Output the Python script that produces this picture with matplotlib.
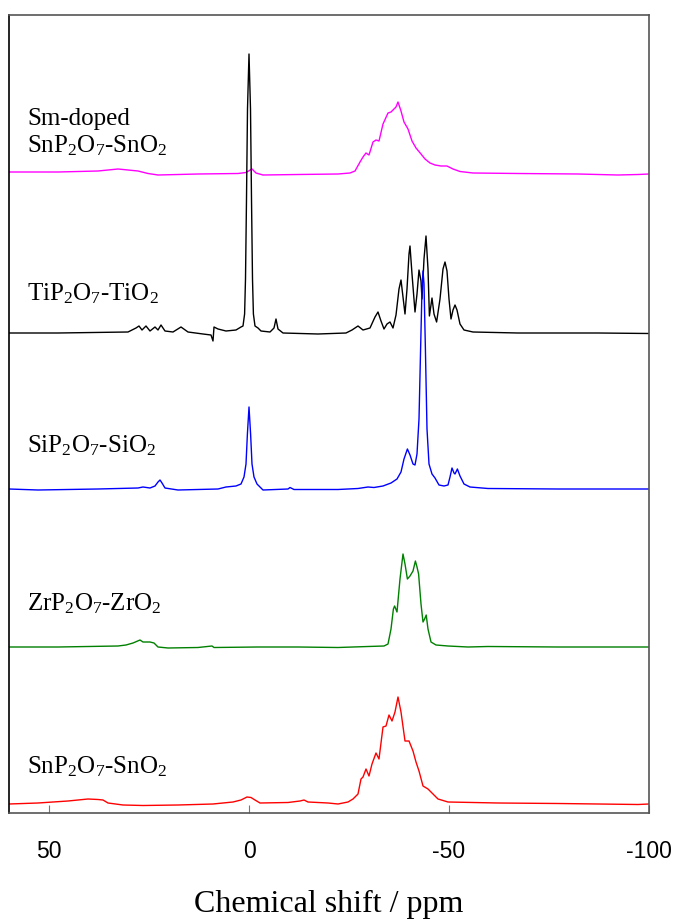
import matplotlib
matplotlib.use("Agg")
import matplotlib.pyplot as plt

plt.rcParams['mathtext.default'] = 'regular'

# chemical shift (ppm) and intensity, per sample
sm_ppm = [60, 47.75, 37.75, 32.75, 27.75, 25.25, 22.75, 12.75, 2.75, 0.75, -0.75, -1.75, -3.5,
          -12.25, -22.25, -25.25, -26.5, -27.75, -28.5, -29.25, -30, -31, -31.75, -32.5, -33.5,
          -34.75, -35.5, -36.25, -36.75, -37.25, -38, -38.75, -39.75, -40.75, -41.75, -43, -44,
          -45.25, -46.5, -48, -49.5, -51, -52.75, -56, -67.25, -82.25, -92.25, -97.25, -100]
sm_int = [0.02, 0.02, 0.03, 0.05, 0.03, 0.005, -0.01, 0, 0.005, 0.015, 0.05, 0.01, -0.01,
          -0.005, 0, 0.01, 0.03, 0.12, 0.17, 0.21, 0.19, 0.32, 0.34, 0.33, 0.50,
          0.61, 0.62, 0.65, 0.67, 0.72, 0.63, 0.52, 0.45, 0.33, 0.26, 0.20, 0.15,
          0.11, 0.09, 0.08, 0.08, 0.05, 0.025, 0.01, 0.005, 0, -0.01, -0.005, 0]

ti_ppm = [60, 47.75, 30.25, 28.25, 27.5, 26.75, 25.75, 24.75, 23.5, 22.75, 22, 21, 19, 17, 15.25,
          11.5, 9.5, 9, 8.75, 7.75, 5.75, 3.25, 2, 1.5, 1.1, 0.875, 0.625, 0.375, 0, -0.375,
          -0.625, -0.875, -1.1, -1.5, -2.25, -3, -5.25, -6.25, -6.75, -7.25, -8.5, -17.25,
          -24.25, -25.75, -27.25, -28.5, -30.25, -31.5, -32.25, -33, -33.75, -34.5, -35.25,
          -36, -36.75, -37.5, -38, -38.5, -39, -39.5, -40, -40.25, -40.75, -41.5, -42, -42.5,
          -43, -43.25, -43.75, -44.25, -44.75, -45.1, -45.75, -46.25, -46.9, -47.75, -48.5,
          -49, -49.5, -50, -50.5, -51, -51.5, -52, -52.75, -53.75, -56, -67.25, -87.25, -100]
ti_int = [0, 0, 0.01, 0.05, 0.07, 0.03, 0.07, 0.02, 0.06, 0.03, 0.08, 0.02, 0.01, 0.06, 0.01,
          -0.01, -0.02, -0.08, 0.06, 0.04, 0.02, 0.03, 0.06, 0.07, 0.19, 0.54, 1.34, 2.24, 2.79, 2.24,
          1.34, 0.54, 0.19, 0.07, 0.05, 0.02, 0.01, 0.05, 0.14, 0.04, 0, -0.01,
          0, 0.03, 0.07, 0.03, 0.05, 0.16, 0.21, 0.12, 0.04, 0.09, 0.11,
          0.05, 0.18, 0.44, 0.53, 0.36, 0.19, 0.44, 0.79, 0.87, 0.59, 0.21, 0.39, 0.63,
          0.52, 0.34, 0.74, 0.97, 0.64, 0.17, 0.35, 0.19, 0.11, 0.34, 0.64,
          0.71, 0.62, 0.34, 0.14, 0.23, 0.28, 0.23, 0.09, 0.03, 0.01, 0, 0, -0.005]

si_ppm = [60, 52.75, 37.75, 27.75, 26.5, 24.75, 23.5, 22.75, 22.25, 21.75, 21, 17.75, 7.75, 5.75,
          3.25, 2, 1.25, 0.75, 0.4, 0, -0.4, -0.75, -1.25, -2, -3.5, -9.75, -10.25, -11.25,
          -22.25, -27.25, -29.75, -31.25, -33.5, -35.5, -37, -38, -38.75, -39.6, -40.25, -41,
          -41.5, -42, -42.5, -42.9, -43.25, -43.5, -43.75, -44.1, -44.5, -45, -45.75, -46.5,
          -47.5, -48.75, -49.75, -50.25, -50.75, -51.25, -51.5, -52.1, -52.75, -53.75, -55.25,
          -59.75, -77.25, -100]
si_int = [0, -0.01, 0, 0.01, 0.02, 0.01, 0.03, 0.07, 0.09, 0.06, 0.01, -0.01, 0, 0.02,
          0.03, 0.05, 0.12, 0.25, 0.55, 0.82, 0.55, 0.25, 0.12, 0.05, -0.01, 0, 0.015, -0.005,
          -0.005, 0.005, 0.02, 0.015, 0.03, 0.06, 0.10, 0.17, 0.30, 0.40, 0.34, 0.25,
          0.24, 0.35, 0.70, 1.40, 2.00, 2.18, 2.05, 1.40, 0.60, 0.25, 0.15, 0.11,
          0.04, 0.03, 0.04, 0.12, 0.21, 0.16, 0.15, 0.20, 0.13, 0.05, 0.02,
          0.005, 0, 0]

zr_ppm = [60, 47.75, 32.75, 30.75, 29, 27.25, 26.5, 24.75, 23.75, 22.75, 20.25, 12.75, 9.25, 8.75,
          -2.25, -12.25, -22.25, -29.75, -33.75, -34.75, -35.5, -36.1, -36.4, -37, -37.75, -38.5,
          -39, -39.6, -40.25, -41, -41.6, -42, -42.4, -43, -43.5, -43.9, -44.3, -44.75, -45.5,
          -46.75, -49.75, -54.75, -59.75, -77.25, -100]
zr_int = [0, 0, 0.01, 0.02, 0.04, 0.07, 0.05, 0.05, 0.04, 0, -0.01, -0.005, 0.01, -0.005,
          0, 0, -0.005, 0.005, 0.01, 0.03, 0.18, 0.38, 0.41, 0.35, 0.68, 0.93,
          0.83, 0.68, 0.71, 0.76, 0.86, 0.80, 0.73, 0.43, 0.25, 0.28, 0.32, 0.18, 0.05,
          0.02, 0.01, 0, 0.005, 0, 0]

sn_ppm = [60, 52.75, 45.25, 40.25, 37.75, 36.5, 35.25, 31.5, 26.5, 17.75, 9, 4, 2, 0.5, -0.5,
          -1.5, -2.75, -9.75, -12.75, -13.75, -14.75, -19.75, -22.25, -24.75, -26, -27.25, -28,
          -28.5, -29.25, -30, -30.75, -31.75, -32.5, -33.5, -34.25, -35, -35.75, -36.5, -37.25,
          -38, -39, -40, -41, -41.75, -42.5, -43.5, -44.75, -45.5, -47.25, -49.75, -62.25,
          -77.25, -97.25, -100]
sn_int = [0, 0.01, 0.03, 0.05, 0.045, 0.04, 0.01, -0.01, -0.015, -0.01, 0, 0.02, 0.04, 0.07, 0.065,
          0.04, 0.01, 0.015, 0.03, 0.04, 0.02, 0.01, 0, 0.02, 0.05, 0.10, 0.25,
          0.27, 0.35, 0.28, 0.40, 0.51, 0.45, 0.77, 0.78, 0.89, 0.83, 0.92, 1.07,
          0.92, 0.63, 0.63, 0.53, 0.42, 0.33, 0.18, 0.15, 0.12, 0.05, 0.02, 0.01,
          0.005, -0.005, 0]

labels = ['Sm-doped\nSnP$_2$O$_7$-SnO$_2$', 'TiP$_2$O$_7$-TiO$_2$', 'SiP$_2$O$_7$-SiO$_2$',
          'ZrP$_2$O$_7$-ZrO$_2$', 'SnP$_2$O$_7$-SnO$_2$']
offsets = [6.30, 4.71, 3.15, 1.57, 0.0]
label_y = [6.53, 5.05, 3.53, 1.95, 0.32]
colors = ['#ff00ff', '#000000', '#0000ff', '#008000', '#ff0000']
spectra = [(sm_ppm, sm_int), (ti_ppm, ti_int), (si_ppm, si_int), (zr_ppm, zr_int), (sn_ppm, sn_int)]

fig = plt.figure(figsize=(6.78, 9.20), dpi=100)
ax = fig.add_axes([9 / 678, 1 - 814 / 920, 640 / 678, 798 / 920])

for (ppm, inten), off, c in zip(spectra, offsets, colors):
    ax.plot(ppm, [v + off for v in inten], color=c, lw=1.0)

for lab, ly in zip(labels, label_y):
    ax.text(55.5, ly, lab, fontsize=18, family='Liberation Serif', va='baseline',
            ha='left', linespacing=1.15)

ax.set_xlim(60, -100)
ax.set_ylim(-0.09, 7.89)
ax.set_xticks([50, 0, -50, -100])
ax.set_xticklabels(['50', '0', '-50', '-100'], family='Liberation Sans', fontsize=16.5)
ax.set_yticks([])
ax.tick_params(axis='x', direction='in', length=6, width=0.8, color='#777777', pad=19)
ax.set_xlabel('Chemical shift / ppm', family='Liberation Serif', fontsize=23, labelpad=19)

for side in ['top', 'right', 'bottom']:
    ax.spines[side].set_color('#555555')
    ax.spines[side].set_linewidth(1.2)
ax.spines['left'].set_color('black')
ax.spines['left'].set_linewidth(1.2)

fig.savefig('out.png', dpi=100)
